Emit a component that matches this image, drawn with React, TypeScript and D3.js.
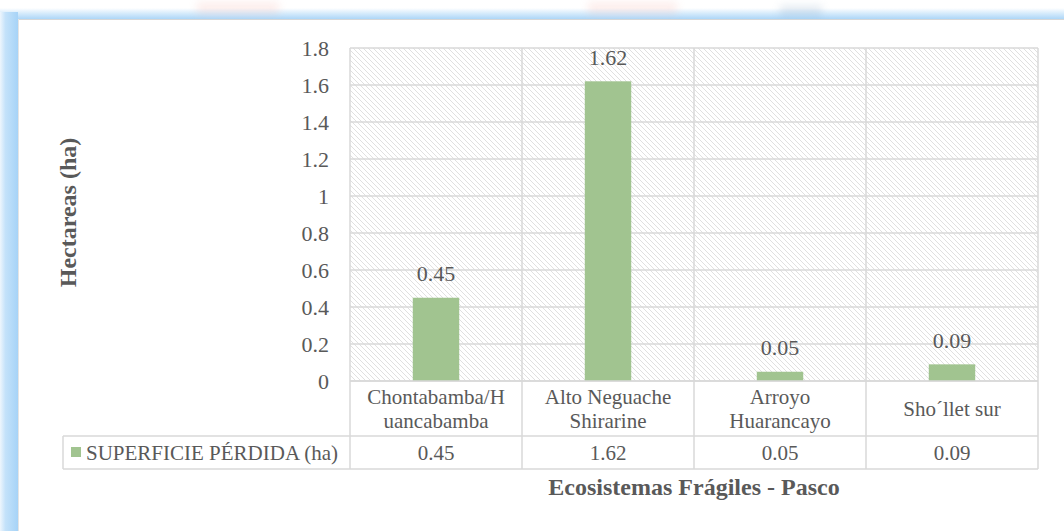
import React from 'react';
import * as d3 from 'd3';

const categories = ['Chontabamba/Huancabamba', 'Alto Neguache Shirarine', 'Arroyo Huarancayo', 'Sho´llet sur'];
const categoryLines = [['Chontabamba/H', 'uancabamba'], ['Alto Neguache', 'Shirarine'], ['Arroyo', 'Huarancayo'], ['Sho´llet sur']];
const values = [0.45, 1.62, 0.05, 0.09];
const yTicks = [0, 0.2, 0.4, 0.6, 0.8, 1, 1.2, 1.4, 1.6, 1.8];
const seriesName = 'SUPERFICIE PÉRDIDA (ha)';
const yTitle = 'Hectareas (ha)';
const xTitle = 'Ecosistemas Frágiles - Pasco';

const W = 1064;
const H = 531;
const textColor = '#595959';
const gridColor = '#d9d9d9';
const barColor = '#a1c490';
const serif: React.CSSProperties = { fontFamily: "'Liberation Serif', 'DejaVu Serif', serif" };

const App: React.FC = () => {
  const plot = { left: 350, right: 1038, top: 48, bottom: 381 };
  const tableRow1 = 436;
  const tableRow2 = 469;
  const legendLeft = 63;

  const x = d3.scaleBand<string>().domain(categories).range([plot.left, plot.right]).padding(0);
  const y = d3.scaleLinear().domain([0, 1.8]).range([plot.bottom, plot.top]);
  const barW = x.bandwidth() * 0.27;
  const fmt = (v: number) => String(+v.toFixed(2));

  return (
    <div style={{ position: 'absolute', left: 0, top: 0 }}>
      <svg width={W} height={H} style={{ display: 'block', background: '#fff', ...serif }}>
        <defs>
          <pattern id="hatch" patternUnits="userSpaceOnUse" width={5} height={5}>
            <rect width={5} height={5} fill="#fff" />
            <path d="M-1,-1 L6,6 M-1,4 L1,6 M4,-1 L6,1" stroke="#e0e0e0" strokeWidth={1} />
          </pattern>
          <linearGradient id="topGlow" x1="0" y1="0" x2="0" y2="1">
            <stop offset="0" stopColor="#ffffff" />
            <stop offset="0.45" stopColor="#d6ebfb" />
            <stop offset="1" stopColor="#a6d3f7" />
          </linearGradient>
          <linearGradient id="leftGlow" x1="0" y1="0" x2="1" y2="0">
            <stop offset="0" stopColor="#eef6fd" />
            <stop offset="0.3" stopColor="#c4e2fa" />
            <stop offset="1" stopColor="#a6d3f7" />
          </linearGradient>
          <filter id="blur" x="-50%" y="-100%" width="200%" height="300%">
            <feGaussianBlur stdDeviation="4" />
          </filter>
        </defs>

        {/* frame glow */}
        <rect x={0} y={8} width={W} height={12} fill="url(#topGlow)" />
        <rect x={0} y={12} width={18} height={H - 12} fill="url(#leftGlow)" />
        <g filter="url(#blur)" opacity={0.2}>
          <rect x={197} y={2} width={82} height={12} fill="#f4a9a0" />
          <rect x={588} y={2} width={89} height={12} fill="#f4a9a0" />
          <rect x={780} y={6} width={42} height={10} fill="#6b8fb5" />
        </g>
        <rect x={18} y={19} width={W - 18} height={H - 19} fill="#fff" />
        <line x1={18} x2={W} y1={19.5} y2={19.5} stroke="#d6d6d6" strokeWidth={1} />
        <line x1={18.5} x2={18.5} y1={19} y2={H} stroke="#e4e4e4" strokeWidth={1} />

        {/* plot area */}
        <rect x={plot.left} y={plot.top} width={plot.right - plot.left} height={plot.bottom - plot.top} fill="url(#hatch)" />
        {yTicks.map(t => (
          <line key={`g${t}`} x1={plot.left} x2={plot.right} y1={y(t)} y2={y(t)} stroke={gridColor} strokeWidth={1.5} />
        ))}
        {categories.map(c => (
          <line key={`v${c}`} x1={x(c)} x2={x(c)} y1={plot.top} y2={tableRow2} stroke={gridColor} strokeWidth={1.5} />
        ))}
        <line x1={plot.right} x2={plot.right} y1={plot.top} y2={tableRow2} stroke={gridColor} strokeWidth={1.5} />

        {/* bars */}
        {categories.map((c, i) => (
          <rect key={`b${c}`} x={(x(c) || 0) + (x.bandwidth() - barW) / 2} y={y(values[i])}
            width={barW} height={y(0) - y(values[i])} fill={barColor} />
        ))}
        {categories.map((c, i) => (
          <text key={`l${c}`} x={(x(c) || 0) + x.bandwidth() / 2} y={y(values[i]) - 24} dy="0.35em"
            textAnchor="middle" fontSize={22} fill={textColor}>{fmt(values[i])}</text>
        ))}

        {/* y axis labels */}
        {yTicks.map(t => (
          <text key={`t${t}`} x={329} y={y(t)} dy="0.35em" textAnchor="end"
            fontSize={22} fill={textColor}>{fmt(t)}</text>
        ))}

        {/* data table */}
        <line x1={plot.left} x2={plot.right} y1={plot.bottom} y2={plot.bottom} stroke={gridColor} strokeWidth={1.5} />
        <line x1={legendLeft} x2={plot.right} y1={tableRow1} y2={tableRow1} stroke={gridColor} strokeWidth={1.5} />
        <line x1={legendLeft} x2={plot.right} y1={tableRow2} y2={tableRow2} stroke={gridColor} strokeWidth={1.5} />
        <line x1={legendLeft} x2={legendLeft} y1={tableRow1} y2={tableRow2} stroke={gridColor} strokeWidth={1.5} />
        {categories.map((c, i) => {
          const lines = categoryLines[i];
          const cx = (x(c) || 0) + x.bandwidth() / 2;
          const mid = (plot.bottom + tableRow1) / 2;
          return lines.map((ln, j) => (
            <text key={`c${c}${j}`} x={cx} y={mid + (j - (lines.length - 1) / 2) * 24} dy="0.35em"
              textAnchor="middle" fontSize={21} fill={textColor}>{ln}</text>
          ));
        })}
        {categories.map((c, i) => (
          <text key={`tv${c}`} x={(x(c) || 0) + x.bandwidth() / 2} y={(tableRow1 + tableRow2) / 2} dy="0.35em"
            textAnchor="middle" fontSize={21} fill={textColor}>{fmt(values[i])}</text>
        ))}
        <rect x={71} y={447} width={10} height={10} fill={barColor} />
        <text x={86} y={(tableRow1 + tableRow2) / 2} dy="0.35em" fontSize={21} fill={textColor}>{seriesName}</text>

        {/* titles */}
        <text transform={`translate(76,${(plot.top + plot.bottom) / 2 - 2}) rotate(-90)`} textAnchor="middle"
          fontSize={24} fontWeight="bold" fill={textColor}>{yTitle}</text>
        <text x={(plot.left + plot.right) / 2} y={495} textAnchor="middle"
          fontSize={24} fontWeight="bold" fill={textColor}>{xTitle}</text>
      </svg>
    </div>
  );
};

export default App;
